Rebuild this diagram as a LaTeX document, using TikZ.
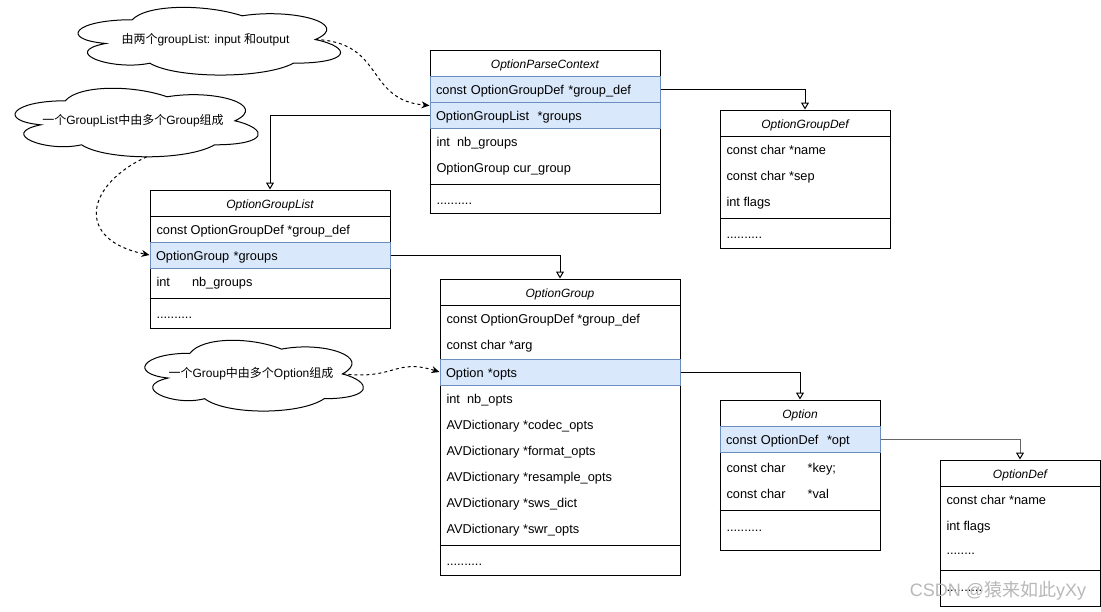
\documentclass[tikz,border=0pt]{standalone}
\usepackage{fontspec}
\setmainfont{Liberation Sans}
\newfontfamily\cjk{Noto Sans CJK SC}
\usetikzlibrary{arrows.meta}
\definecolor{rowfill}{HTML}{DAE8FC}
\definecolor{rowline}{HTML}{6C8EBF}
\tikzstyle{frame}=[draw, fill=white, inner sep=0]
\tikzstyle{head}=[draw, inner sep=0, minimum height=26pt, text height=10pt, text depth=0pt, font=\fontsize{12}{14}\selectfont\itshape]
\tikzstyle{field}=[anchor=west, inner sep=0, text height=10pt, text depth=0pt, font=\fontsize{12.8}{14}\selectfont]
\tikzstyle{hfield}=[draw=rowline, fill=rowfill, inner xsep=6pt, inner ysep=0, minimum height=26pt, align=left, text height=10pt, text depth=0pt, font=\fontsize{12.8}{14}\selectfont]
\tikzstyle{notetext}=[inner sep=0]
\tikzstyle{ref}=[-{Triangle[open, length=7pt, width=8pt]}]
\tikzstyle{hint}=[dash pattern=on 3pt off 3pt, -{Stealth[length=8pt, width=7pt]}]

% cloud outline: name, left, top, width, height
\newcommand\notecloud[5]{%
  \begin{scope}[shift={(#2,#3)}, x=#4pt, y=-#5pt]
    \draw [fill=white] (0.25,0.25) .. controls (0.05,0.25) and (0,0.5) .. (0.16,0.55)
      .. controls (0,0.66) and (0.18,0.9) .. (0.31,0.8)
      .. controls (0.4,1) and (0.7,1) .. (0.8,0.8)
      .. controls (1,0.8) and (1,0.6) .. (0.875,0.5)
      .. controls (1,0.3) and (0.8,0.1) .. (0.625,0.2)
      .. controls (0.5,0.05) and (0.3,0.05) .. (0.25,0.25) -- cycle;
    \coordinate (#1-tip) at (0.875,0.5);
    \coordinate (#1-foot) at (0.55,0.95);
  \end{scope}}

\begin{document}
\begin{tikzpicture}[x=1pt, y=-1pt, line width=1pt, every node/.append style={font=\fontsize{12}{14}\selectfont}]
\useasboundingbox (0,0) rectangle (1101,611);

% OptionParseContext
\node [frame, minimum width=230pt, minimum height=163pt] (opc) at (545,131.5) {};
\node [head, minimum width=230pt] (opc-t) at (545,63) {OptionParseContext};
\node [hfield, text width=218pt] (opc-def) at (545,89) {const OptionGroupDef *group\_def};
\node [hfield, text width=218pt] (opc-list) at (545,115) {OptionGroupList\ \ *groups};
\node [field] (opc-nb) at (436,141) {int\ \ nb\_groups};
\node [field] (opc-cur) at (436,167) {OptionGroup cur\_group};
\draw (opc.west |- 0,184) -- (opc.east |- 0,184);
\node [field] (opc-etc) at (436,199) {..........};

% OptionGroupDef
\node [frame, minimum width=170pt, minimum height=138pt] (ogd) at (805,179) {};
\node [head, minimum width=170pt] (ogd-t) at (805,123) {OptionGroupDef};
\node [field] (ogd-name) at (726,149) {const char *name};
\node [field] (ogd-sep) at (726,175) {const char *sep};
\node [field] (ogd-flags) at (726,201) {int flags};
\draw (ogd.west |- 0,218) -- (ogd.east |- 0,218);
\node [field] (ogd-etc) at (726,233) {..........};

% OptionGroupList
\node [frame, minimum width=240pt, minimum height=138pt] (ogl) at (270,259) {};
\node [head, minimum width=240pt] (ogl-t) at (270,203) {OptionGroupList};
\node [field] (ogl-def) at (156,229) {const OptionGroupDef *group\_def};
\node [hfield, text width=228pt] (ogl-groups) at (270,255) {OptionGroup *groups};
\node [field] (ogl-nb) at (156,281) {int\hspace{22pt}nb\_groups};
\draw (ogl.west |- 0,298) -- (ogl.east |- 0,298);
\node [field] (ogl-etc) at (156,313) {..........};

% OptionGroup
\node [frame, minimum width=240pt, minimum height=296pt] (og) at (560,427) {};
\node [head, minimum width=240pt] (og-t) at (560,292) {OptionGroup};
\node [field] (og-def) at (446,318) {const OptionGroupDef *group\_def};
\node [field] (og-arg) at (446,344) {const char *arg};
\node [hfield, text width=228pt] (og-opts) at (560,372) {Option *opts};
\node [field] (og-nb) at (446,398) {int\ \ nb\_opts};
\node [field] (og-codec) at (446,424) {AVDictionary *codec\_opts};
\node [field] (og-format) at (446,450) {AVDictionary *format\_opts};
\node [field] (og-resample) at (446,476) {AVDictionary *resample\_opts};
\node [field] (og-sws) at (446,502) {AVDictionary *sws\_dict};
\node [field] (og-swr) at (446,528) {AVDictionary *swr\_opts};
\draw (og.west |- 0,545) -- (og.east |- 0,545);
\node [field] (og-etc) at (446,560) {..........};

% Option
\node [frame, minimum width=160pt, minimum height=150pt] (opt) at (800,475) {};
\node [head, minimum width=160pt] (opt-t) at (800,413) {Option};
\node [hfield, text width=148pt] (opt-opt) at (800,439) {const OptionDef\ \ *opt};
\node [field] (opt-key) at (726,467) {const char\hspace{22pt}*key;};
\node [field] (opt-val) at (726,493) {const char\hspace{22pt}*val};
\draw (opt.west |- 0,510) -- (opt.east |- 0,510);
\node [field] (opt-etc) at (726,526) {..........};

% OptionDef
\node [frame, minimum width=160pt, minimum height=146pt] (odef) at (1020,533) {};
\node [head, minimum width=160pt] (odef-t) at (1020,473) {OptionDef};
\node [field] (odef-name) at (946,499) {const char *name};
\node [field] (odef-flags) at (946,525) {int flags};
\node [field] (odef-more) at (946,549) {........};
\draw (odef.west |- 0,570) -- (odef.east |- 0,570);
\node [field] (odef-etc) at (946,586) {..........};

% references between structs
\draw [ref] (opc-def.east) -| (ogd.north);
\draw [ref] (opc-list.west) -| (ogl.north);
\draw [ref] (ogl-groups.east) -| (og.north);
\draw [ref] (og-opts.east) -| (opt.north);
\draw [-{Triangle[open, length=7pt, width=8pt, color=black]}, draw=black!60] (opt-opt.east) -| (odef.north);

% notes
\notecloud{c-io}{59}{0}{293}{79}
\notecloud{c-grp}{-2.6}{80.8}{271.5}{80}
\notecloud{c-opt}{129}{332.6}{244}{82.6}
\node [notetext] (n-io) at (205.5,39.5) {{\cjk 由两个}groupList: input {\cjk 和}output};
\node [notetext] (n-grp) at (133,120.8) {{\cjk 一个}GroupList{\cjk 中由多个}Group{\cjk 组成}};
\node [notetext] (n-opt) at (251,374) {{\cjk 一个}Group{\cjk 中由多个}Option{\cjk 组成}};

\draw [hint] (c-io-tip) .. controls (385,42) and (365,100) .. ([yshift=-4pt]opc-list.north west);
\draw [hint] (c-grp-foot) .. controls (85,185) and (75,240) .. (ogl-groups.west);
\draw [hint] (c-opt-tip) .. controls (395,380) and (395,358) .. (og-opts.west);

\node [anchor=west, text=black!28, font=\fontsize{18}{20}\selectfont] (mark) at (906,591) {CSDN @{\cjk 猿来如此}yXy};

\end{tikzpicture}
\end{document}
